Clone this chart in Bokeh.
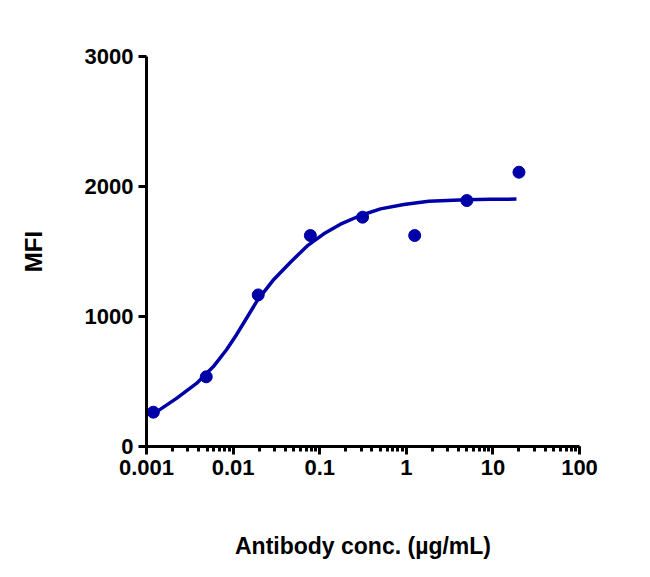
from bokeh.plotting import figure
from bokeh.models import FixedTicker, LogTicker
from bokeh.embed import file_html
from bokeh.resources import INLINE

# measured points
conc = [0.0012, 0.0049, 0.0195, 0.078, 0.3125, 1.25, 5, 20]
mfi = [264, 536, 1166, 1623, 1764, 1623, 1892, 2110]

# fitted curve as drawn
curve_conc = [0.001164, 0.001304, 0.00222, 0.00378, 0.005888, 0.00839, 0.01095,
              0.01329, 0.01898, 0.02951, 0.04601, 0.07173, 0.1115, 0.1738,
              0.2959, 0.5037, 0.9356, 1.819, 4.83, 9.38, 18.7]
curve_mfi = [252, 266, 370, 485, 613, 744, 860,
             952, 1122, 1285, 1418, 1543, 1636, 1710,
             1777, 1828, 1862, 1887, 1898, 1902, 1903]

y_ticks = [0, 1000, 2000, 3000]
x_tick_labels = {0.001: "0.001", 0.01: "0.01", 0.1: "0.1", 1: "1", 10: "10", 100: "100"}

BLUE = "#0000A8"
FONT = "Liberation Sans"

p = figure(x_axis_type="log", x_range=(0.001, 100), y_range=(0, 3000),
           frame_width=433, frame_height=390,
           min_border_left=146, min_border_right=51, min_border_top=56, min_border_bottom=114,
           output_backend="svg", toolbar_location=None)
p.outline_line_color = None
p.xgrid.grid_line_color = None
p.ygrid.grid_line_color = None
p.background_fill_color = "white"
p.border_fill_color = "white"

p.line(curve_conc, curve_mfi, line_color=BLUE, line_width=3.5)
p.scatter(conc, mfi, size=12, color=BLUE)

xa = p.xaxis[0]
xa.ticker = LogTicker(num_minor_ticks=10)
xa.major_label_overrides = x_tick_labels
ya = p.yaxis[0]
ya.ticker = FixedTicker(ticks=y_ticks)
ya.minor_tick_line_color = None

for ax in (xa, ya):
    ax.axis_line_width = 3
    ax.axis_line_color = "black"
    ax.major_tick_line_width = 3
    ax.major_tick_line_color = "black"
    ax.major_tick_out = 8
    ax.major_tick_in = 0
    ax.major_label_text_font = FONT
    ax.major_label_text_font_style = "bold"
    ax.major_label_text_font_size = "22px"
    ax.major_label_text_color = "black"
    ax.axis_label_text_font = FONT
    ax.axis_label_text_font_style = "bold"
    ax.axis_label_text_color = "black"

xa.minor_tick_line_width = 3
xa.minor_tick_line_color = "black"
xa.minor_tick_out = 5
xa.minor_tick_in = 0
xa.major_label_standoff = 5
xa.axis_label = "Antibody conc. (µg/mL)"
xa.axis_label_text_font_size = "23px"
xa.axis_label_standoff = 55

ya.major_label_standoff = 5
ya.axis_label = "MFI"
ya.axis_label_text_font_size = "24px"
ya.axis_label_standoff = 35

open("out.html", "w").write(file_html(p, INLINE))
